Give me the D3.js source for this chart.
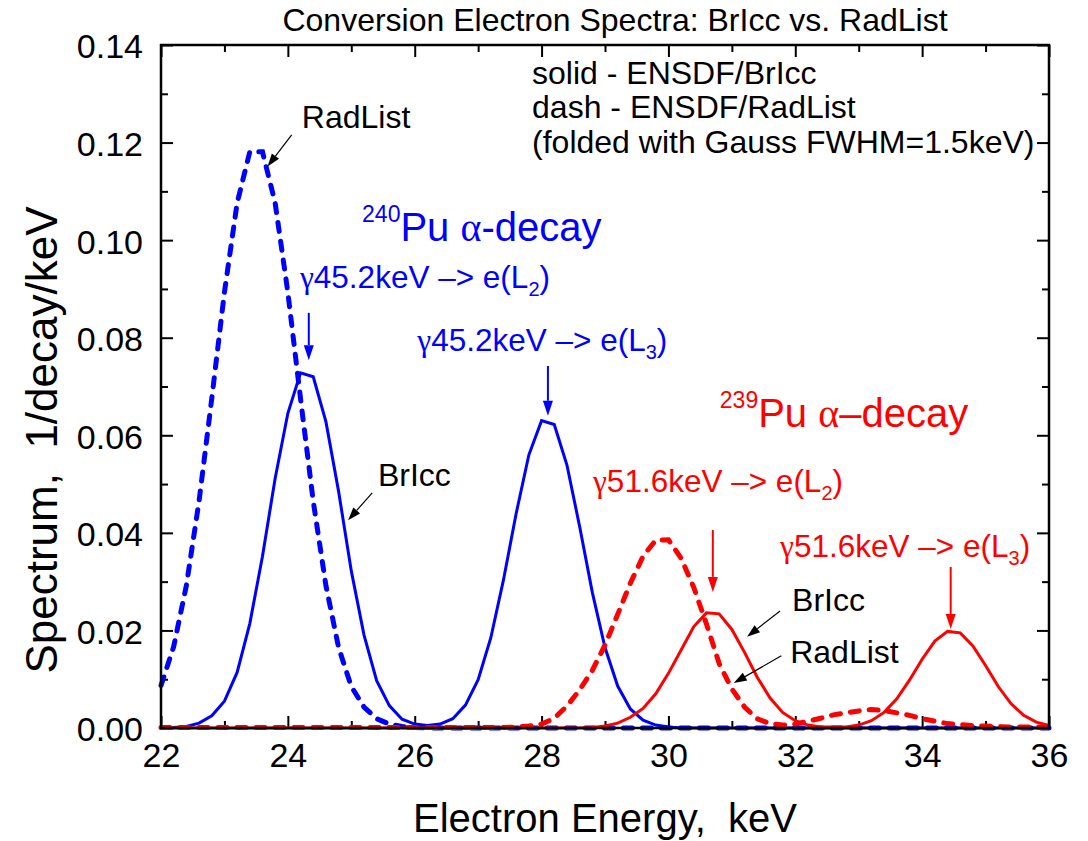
<!DOCTYPE html>
<html>
<head>
<meta charset="utf-8">
<script src="https://cdn.jsdelivr.net/npm/d3@7"></script>
<style>
  body { margin: 0; background: #fff; }
  svg { display: block; }
  text { font-family: "Liberation Sans", Arial, sans-serif; fill: #000; white-space: pre; }
</style>
</head>
<body>
<div id="chart"></div>
<script>
// Energy grid (keV), sampled every 0.2 keV
const energy = [22.0, 22.2, 22.4, 22.6, 22.8, 23.0, 23.2, 23.4, 23.6, 23.8,
  24.0, 24.2, 24.4, 24.6, 24.8, 25.0, 25.2, 25.4, 25.6, 25.8,
  26.0, 26.2, 26.4, 26.6, 26.8, 27.0, 27.2, 27.4, 27.6, 27.8,
  28.0, 28.2, 28.4, 28.6, 28.8, 29.0, 29.2, 29.4, 29.6, 29.8,
  30.0, 30.2, 30.4, 30.6, 30.8, 31.0, 31.2, 31.4, 31.6, 31.8,
  32.0, 32.2, 32.4, 32.6, 32.8, 33.0, 33.2, 33.4, 33.6, 33.8,
  34.0, 34.2, 34.4, 34.6, 34.8, 35.0, 35.2, 35.4, 35.6, 35.8, 36.0];

// 240Pu, ENSDF/BrIcc (blue solid)
const bricc240 = [0.0000, 0.0001, 0.0003, 0.0010, 0.0025, 0.0055, 0.0114, 0.0214, 0.0352, 0.0512,
  0.0645, 0.0728, 0.0720, 0.0628, 0.0485, 0.0322, 0.0191, 0.0097, 0.0046, 0.0018,
  0.0008, 0.0005, 0.0008, 0.0019, 0.0047, 0.0099, 0.0185, 0.0304, 0.0440, 0.0560,
  0.0630, 0.0622, 0.0539, 0.0413, 0.0278, 0.0165, 0.0086, 0.0039, 0.0016, 0.0006,
  0.0002, 0.0000, 0.0000, 0.0000, 0.0000, 0.0000, 0.0000, 0.0000, 0.0000, 0.0000,
  0.0000, 0.0000, 0.0000, 0.0000, 0.0000, 0.0000, 0.0000, 0.0000, 0.0000, 0.0000,
  0.0000, 0.0000, 0.0000, 0.0000, 0.0000, 0.0000, 0.0000, 0.0000, 0.0000, 0.0000, 0.0000];

// 240Pu, ENSDF/RadList (blue dash)
const radlist240 = [0.0087, 0.0167, 0.0292, 0.0465, 0.0675, 0.0893, 0.1076, 0.1181, 0.1181, 0.1076,
  0.0893, 0.0675, 0.0465, 0.0292, 0.0165, 0.0085, 0.0043, 0.0019, 0.0008, 0.0003,
  0.0001, 0.0000, 0.0000, 0.0000, 0.0000, 0.0000, 0.0000, 0.0000, 0.0000, 0.0000,
  0.0000, 0.0000, 0.0000, 0.0000, 0.0000, 0.0000, 0.0000, 0.0000, 0.0000, 0.0000,
  0.0000, 0.0000, 0.0000, 0.0000, 0.0000, 0.0000, 0.0000, 0.0000, 0.0000, 0.0000,
  0.0000, 0.0000, 0.0000, 0.0000, 0.0000, 0.0000, 0.0000, 0.0000, 0.0000, 0.0000,
  0.0000, 0.0000, 0.0000, 0.0000, 0.0000, 0.0000, 0.0000, 0.0000, 0.0000, 0.0000, 0.0000];

// 239Pu, ENSDF/BrIcc (red solid)
const bricc239 = [0.0000, 0.0000, 0.0000, 0.0000, 0.0000, 0.0000, 0.0000, 0.0000, 0.0000, 0.0000,
  0.0000, 0.0000, 0.0000, 0.0000, 0.0000, 0.0000, 0.0000, 0.0000, 0.0000, 0.0000,
  0.0000, 0.0000, 0.0000, 0.0000, 0.0000, 0.0000, 0.0000, 0.0000, 0.0000, 0.0000,
  0.0000, 0.0000, 0.0000, 0.0000, 0.0001, 0.0004, 0.0010, 0.0022, 0.0040, 0.0070,
  0.0112, 0.0160, 0.0208, 0.0236, 0.0234, 0.0202, 0.0155, 0.0104, 0.0062, 0.0032,
  0.0015, 0.0006, 0.0002, 0.0002, 0.0002, 0.0006, 0.0015, 0.0032, 0.0060, 0.0098,
  0.0141, 0.0178, 0.0198, 0.0195, 0.0168, 0.0128, 0.0085, 0.0050, 0.0026, 0.0012, 0.0005];

// 239Pu, ENSDF/RadList (red dash)
const radlist239 = [0.0001, 0.0001, 0.0001, 0.0001, 0.0001, 0.0001, 0.0001, 0.0001, 0.0001, 0.0001,
  0.0001, 0.0001, 0.0001, 0.0001, 0.0001, 0.0001, 0.0001, 0.0001, 0.0001, 0.0001,
  0.0001, 0.0001, 0.0001, 0.0001, 0.0001, 0.0001, 0.0001, 0.0001, 0.0002, 0.0004,
  0.0008, 0.0020, 0.0045, 0.0078, 0.0118, 0.0170, 0.0233, 0.0297, 0.0352, 0.0385,
  0.0386, 0.0348, 0.0288, 0.0213, 0.0132, 0.0080, 0.0043, 0.0019, 0.0009, 0.0006,
  0.0008, 0.0014, 0.0020, 0.0027, 0.0031, 0.0035, 0.0038, 0.0036, 0.0031, 0.0026,
  0.0019, 0.0014, 0.0009, 0.0007, 0.0005, 0.0004, 0.0003, 0.0002, 0.0002, 0.0002, 0.0002];

const xTicks = [22, 24, 26, 28, 30, 32, 34, 36];
const xMinor = [23, 25, 27, 29, 31, 33, 35];
const yTicks = [0.00, 0.02, 0.04, 0.06, 0.08, 0.10, 0.12, 0.14];
const yMinor = [0.01, 0.03, 0.05, 0.07, 0.09, 0.11, 0.13];

const BLUE = "#0000ff", RED = "#ff0000";

// Dimensions
const width = 1088, height = 841;
const margin = { top: 45, right: 39, bottom: 113, left: 161 };
const w = width - margin.left - margin.right;
const h = height - margin.top - margin.bottom;

const svg = d3.select("#chart").append("svg")
    .attr("width", width)
    .attr("height", height);

const g = svg.append("g")
    .attr("transform", `translate(${margin.left},${margin.top})`);

const x = d3.scaleLinear().domain([22, 36]).range([0, w]);
const y = d3.scaleLinear().domain([0, 0.14]).range([h, 0]);

// Axes: ticks point inward on all four sides
function styleAxis(sel) {
    sel.select(".domain").remove();
    sel.selectAll(".tick line").attr("stroke", "#000").attr("stroke-width", 2);
    sel.selectAll("text").style("font-size", "34px").attr("fill", "#000");
}

g.append("g").attr("transform", `translate(0,${h})`)
    .call(d3.axisBottom(x).tickValues(xTicks).tickSize(-12).tickPadding(15).tickFormat(d3.format("d")))
    .call(styleAxis);
g.append("g").attr("transform", `translate(0,${h})`)
    .call(d3.axisBottom(x).tickValues(xMinor).tickSize(-7).tickFormat(""))
    .call(styleAxis);
g.append("g")
    .call(d3.axisTop(x).tickValues(xTicks).tickSize(-12).tickFormat(""))
    .call(styleAxis);
g.append("g")
    .call(d3.axisTop(x).tickValues(xMinor).tickSize(-7).tickFormat(""))
    .call(styleAxis);

g.append("g")
    .call(d3.axisLeft(y).tickValues(yTicks).tickSize(-12).tickPadding(18).tickFormat(d3.format(".2f")))
    .call(styleAxis)
    .selectAll("text").attr("dy", "0.38em");
g.append("g")
    .call(d3.axisLeft(y).tickValues(yMinor).tickSize(-7).tickFormat(""))
    .call(styleAxis);
g.append("g").attr("transform", `translate(${w},0)`)
    .call(d3.axisRight(y).tickValues(yTicks).tickSize(-12).tickFormat(""))
    .call(styleAxis);
g.append("g").attr("transform", `translate(${w},0)`)
    .call(d3.axisRight(y).tickValues(yMinor).tickSize(-7).tickFormat(""))
    .call(styleAxis);

// Curves
const line = d3.line()
    .x(d => x(d[0]))
    .y(d => y(d[1]));

const series = [
    { values: radlist240, color: BLUE, dash: true },
    { values: bricc240, color: BLUE, dash: false },
    { values: radlist239, color: RED, dash: true },
    { values: bricc239, color: RED, dash: false }
];

const plot = g.append("g");
series.forEach(s => {
    plot.append("path")
        .datum(energy.map((e, i) => [e, s.values[i]]))
        .attr("fill", "none")
        .attr("stroke", s.color)
        .attr("stroke-width", s.dash ? 5 : 3)
        .attr("stroke-dasharray", s.dash ? "9,10" : null)
        .attr("stroke-linecap", s.dash ? "round" : "butt")
        .attr("stroke-linejoin", "miter")
        .attr("d", line);
});

// Frame
g.append("rect")
    .attr("width", w).attr("height", h)
    .attr("fill", "none").attr("stroke", "#000").attr("stroke-width", 2.5);

// Arrow helper (data coordinates)
function arrow(x1, y1, x2, y2, color, lw, len, half) {
    const px1 = x(x1), py1 = y(y1), px2 = x(x2), py2 = y(y2);
    const a = Math.atan2(py2 - py1, px2 - px1);
    const bx = px2 - len * Math.cos(a), by = py2 - len * Math.sin(a);
    g.append("line")
        .attr("x1", px1).attr("y1", py1).attr("x2", bx).attr("y2", by)
        .attr("stroke", color).attr("stroke-width", lw);
    g.append("polygon")
        .attr("points", [
            [px2, py2],
            [bx + half * Math.sin(a), by - half * Math.cos(a)],
            [bx - half * Math.sin(a), by + half * Math.cos(a)]
        ].map(p => p.join(",")).join(" "))
        .attr("fill", color);
}

// Text helper: parts = [{t, size, dy, serif}]
function label(xv, yv, color, size, parts) {
    const t = g.append("text")
        .attr("x", x(xv)).attr("y", y(yv))
        .style("font-size", size + "px")
        .attr("fill", color);
    parts.forEach(p => {
        const ts = t.append("tspan").text(p.t).attr("fill", color);
        if (p.size) ts.style("font-size", p.size + "px");
        if (p.dy) ts.attr("dy", p.dy);
        if (p.serif) ts.style("font-family", "'Liberation Serif', 'Times New Roman', serif");
    });
    return t;
}

// Legend text
label(27.85, 0.1320, "#000", 32, [{ t: "solid - ENSDF/BrIcc" }]);
label(27.85, 0.1250, "#000", 32, [{ t: "dash - ENSDF/RadList" }]);
label(27.85, 0.1178, "#000", 32, [{ t: "(folded with Gauss FWHM=1.5keV)" }]);

// 240Pu annotations
label(25.17, 0.0998, BLUE, 40, [
    { t: "240", size: 23, dy: -19 },
    { t: "Pu ", size: 40, dy: 19 },
    { t: "\u03b1", serif: true },
    { t: "-decay" }
]);
label(24.19, 0.0902, BLUE, 31.5, [
    { t: "\u03b3", serif: true },
    { t: "45.2keV \u2013> e(L" },
    { t: "2", size: 20, dy: 8 },
    { t: ")", size: 31.5, dy: -8 }
]);
arrow(24.33, 0.0851, 24.33, 0.0754, BLUE, 2, 15, 5);
label(26.04, 0.0772, BLUE, 31.5, [
    { t: "\u03b3", serif: true },
    { t: "45.2keV \u2013> e(L" },
    { t: "3", size: 20, dy: 8 },
    { t: ")", size: 31.5, dy: -8 }
]);
arrow(28.10, 0.0742, 28.10, 0.0640, BLUE, 2, 15, 5);

label(24.22, 0.1230, "#000", 32, [{ t: "RadList" }]);
arrow(24.06, 0.1216, 23.68, 0.1151, "#000", 1.2, 13, 4.5);
label(25.42, 0.0496, "#000", 32, [{ t: "BrIcc" }]);
arrow(25.33, 0.0482, 24.95, 0.0426, "#000", 1.2, 13, 4.5);

// 239Pu annotations
label(30.81, 0.0617, RED, 40, [
    { t: "239", size: 23, dy: -19 },
    { t: "Pu ", size: 40, dy: 19 },
    { t: "\u03b1", serif: true },
    { t: "\u2013decay" }
]);
label(28.81, 0.0483, RED, 31.5, [
    { t: "\u03b3", serif: true },
    { t: "51.6keV \u2013> e(L" },
    { t: "2", size: 20, dy: 8 },
    { t: ")", size: 31.5, dy: -8 }
]);
arrow(30.70, 0.0406, 30.70, 0.0279, RED, 2, 15, 5);
label(31.76, 0.0350, RED, 31.5, [
    { t: "\u03b3", serif: true },
    { t: "51.6keV \u2013> e(L" },
    { t: "3", size: 20, dy: 8 },
    { t: ")", size: 31.5, dy: -8 }
]);
arrow(34.45, 0.0330, 34.45, 0.0203, RED, 2, 15, 5);

label(31.95, 0.0240, "#000", 32, [{ t: "BrIcc" }]);
arrow(31.76, 0.0240, 31.24, 0.0187, "#000", 1.2, 13, 4.5);
label(31.92, 0.0133, "#000", 32, [{ t: "RadList" }]);
arrow(31.78, 0.0148, 31.03, 0.0092, "#000", 1.2, 13, 4.5);

// Title and axis titles
svg.append("text")
    .attr("x", 615).attr("y", 31)
    .attr("text-anchor", "middle")
    .style("font-size", "32px")
    .text("Conversion Electron Spectra: BrIcc vs. RadList");

svg.append("text")
    .attr("x", margin.left + w / 2).attr("y", 832)
    .attr("text-anchor", "middle")
    .style("font-size", "40px")
    .text("Electron Energy,  keV");

svg.append("text")
    .attr("transform", `translate(57,440) rotate(-90)`)
    .attr("text-anchor", "middle")
    .style("font-size", "44px")
    .text("Spectrum,  1/decay/keV");
</script>
</body>
</html>
